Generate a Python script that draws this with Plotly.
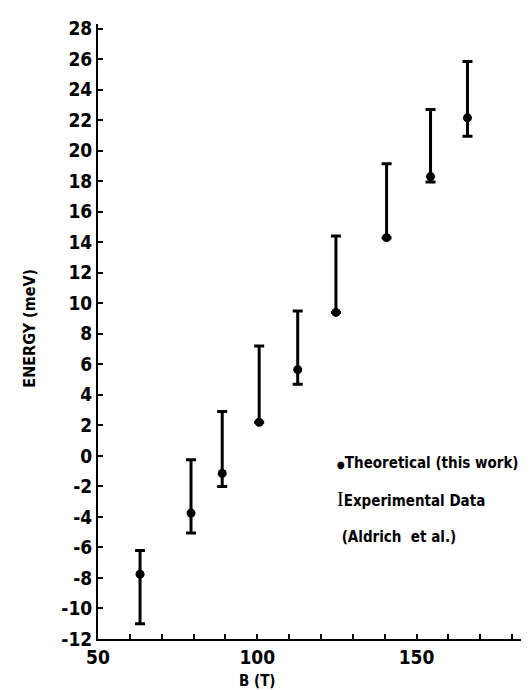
import plotly.graph_objects as go

# Data
B_field = [63.2, 79.2, 89.0, 100.6, 112.7, 124.7, 140.6, 154.4, 166.0]
theory_energy = [-7.75, -3.75, -1.15, 2.2, 5.65, 9.4, 14.3, 18.3, 22.15]
exp_low = [-11.0, -5.05, -2.0, 2.2, 4.7, 9.4, 14.3, 17.95, 20.95]
exp_high = [-6.2, -0.25, 2.9, 7.2, 9.5, 14.4, 19.15, 22.7, 25.85]

x_tick_vals = [50, 60, 70, 80, 90, 100, 110, 120, 130, 140, 150, 160, 170, 180]
x_tick_text = ["50", "", "", "", "", "100", "", "", "", "", "150", "", "", ""]
y_tick_vals = list(range(-12, 29, 2))
y_tick_text = [str(v) for v in y_tick_vals]

FONT = "DejaVu Sans Condensed, Liberation Sans Narrow, sans-serif"

exp_mid = [(lo + hi) / 2 for lo, hi in zip(exp_low, exp_high)]
exp_half = [(hi - lo) / 2 for lo, hi in zip(exp_low, exp_high)]

fig = go.Figure()
fig.add_trace(go.Scatter(
    x=B_field, y=exp_mid, mode="markers",
    marker=dict(size=1, color="rgba(0,0,0,0)"),
    error_y=dict(type="data", array=exp_half, visible=True,
                 color="black", thickness=3, width=5),
    showlegend=False, hoverinfo="skip"))
fig.add_trace(go.Scatter(
    x=B_field, y=theory_energy, mode="markers",
    marker=dict(size=9, color="black"),
    showlegend=False))

axis_common = dict(
    showline=True, linecolor="black", linewidth=2,
    ticks="inside", tickcolor="black", tickwidth=1.5, ticklen=5,
    showgrid=False, zeroline=False,
    tickfont=dict(family=FONT, size=19, color="black", weight="bold"),
)

fig.update_xaxes(range=[50, 185], tickmode="array", tickvals=x_tick_vals,
                 ticktext=x_tick_text, **axis_common)
fig.update_yaxes(range=[-12, 28.3], tickmode="array", tickvals=y_tick_vals,
                 ticktext=y_tick_text, **axis_common)

fig.add_annotation(x=100, y=-0.05, xref="x", yref="paper", text="B (T)",
                   showarrow=False, xanchor="center", yanchor="top",
                   font=dict(family=FONT, size=15, color="black", weight="bold"))
fig.add_annotation(x=-0.16, y=0.505, xref="paper", yref="paper", text="ENERGY (meV)",
                   showarrow=False, textangle=-90, xanchor="center", yanchor="middle",
                   font=dict(family=FONT, size=16, color="black", weight="bold"))

ann_font = dict(family=FONT, size=15, color="black", weight="bold")
legend_items = [
    "<span style='font-size:10px'>●</span>Theoretical (this work)",
    "<span style='font-family:Liberation Serif, serif;font-weight:normal;font-size:20px'>I</span>Experimental Data",
    " (Aldrich  et al.)",
]
legend_y = [-0.45, -2.85, -5.3]
for txt, yy in zip(legend_items, legend_y):
    fig.add_annotation(x=124.3, y=yy, xref="x", yref="y", text=txt,
                       showarrow=False, xanchor="left", yanchor="middle",
                       font=ann_font)

fig.update_layout(
    width=529, height=690,
    margin=dict(l=90, r=9, t=10, b=59),
    plot_bgcolor="white", paper_bgcolor="white",
)

fig.write_html("out.html")
